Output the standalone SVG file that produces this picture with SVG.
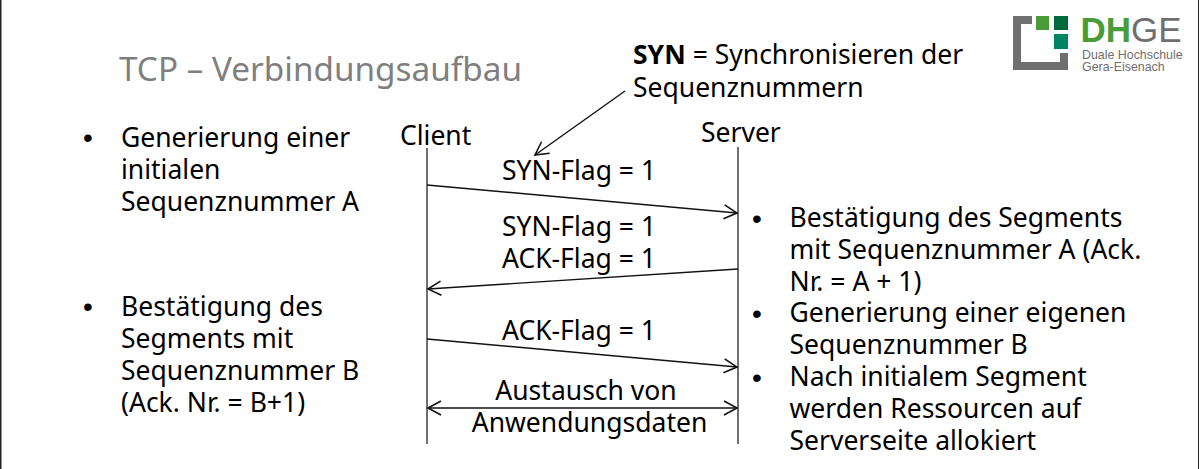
<svg xmlns="http://www.w3.org/2000/svg" width="1199" height="469" viewBox="0 0 1199 469">
<style>
text{font-family:"Noto Sans","Open Sans",sans-serif;fill:#000;font-size:26.5px}
.c{text-anchor:middle}
.t{fill:#7f7f7f;font-size:33.3px}
.b{font-family:"Liberation Sans",Arial,sans-serif;font-size:28px}
.l{stroke:#404040;stroke-width:1.5;fill:none}
.a{stroke:#111;stroke-width:1.4;fill:none}
.h{stroke:#111;stroke-width:1.6;fill:none}
.lg{font-family:"Liberation Sans",Arial,sans-serif;fill:#6f6f6f;font-size:12.4px}
</style>
<defs>
<marker id="e" markerUnits="userSpaceOnUse" markerWidth="18" markerHeight="18" refX="14" refY="8" orient="auto-start-reverse" viewBox="0 0 18 16"><path d="M1 1L14 8L1 15" class="h"/></marker>
</defs>
<rect width="1199" height="469" fill="#fff"/>
<rect x="0" y="0" width="1.5" height="469" fill="#222"/>
<rect x="1198" y="0" width="1" height="469" fill="#222"/>
<g id="title"><text class="t" x="119" y="81">TCP – Verbindungsaufbau</text></g>
<g id="logo">
<path d="M1032 20H1017V66H1064V53" fill="none" stroke="#6f6f6f" stroke-width="8"/>
<rect x="1036" y="16" width="13" height="14" fill="#4a9c38"/>
<rect x="1054" y="16" width="14" height="14" fill="#00693e"/>
<rect x="1054" y="34" width="14" height="15" fill="#008564"/>
<text x="1080.5" y="42" style="font-family:'Liberation Sans',Arial,sans-serif;font-size:35px;font-weight:700;fill:#4a9c38">DH<tspan style="font-weight:400;fill:#6f6f6f">GE</tspan></text>
<text class="lg" x="1082" y="58.5">Duale Hochschule</text>
<text class="lg" x="1082" y="71">Gera-Eisenach</text>
</g>
<g id="syn-note"><text x="633" y="64"><tspan font-weight="700">SYN</tspan> = Synchronisieren der<tspan x="633" y="97">Sequenznummern</tspan></text></g>
<g id="client"><text x="400" y="144.5">Client</text><path class="l" d="M427 148V444"/></g>
<g id="server"><text x="701" y="141.5">Server</text><path class="l" d="M738 147V444"/></g>
<g id="left-notes">
<text class="b" x="83" y="146.5">•</text><text x="121" y="146.7">Generierung einer<tspan x="121" y="178.7">initialen</tspan><tspan x="121" y="210.7">Sequenznummer A</tspan></text>
<text class="b" x="83" y="315.5">•</text><text x="121" y="315.7">Bestätigung des<tspan x="121" y="347.7">Segments mit</tspan><tspan x="121" y="379.7">Sequenznummer B</tspan><tspan x="121" y="411.7">(Ack. Nr. = B+1)</tspan></text>
</g>
<g id="right-notes">
<text class="b" x="752" y="227.5">•</text><text x="789.5" y="227.2">Bestätigung des Segments<tspan x="789.5" y="259.2">mit Sequenznummer A (Ack.</tspan><tspan x="789.5" y="291.2">Nr. = A + 1)</tspan></text>
<text class="b" x="752" y="322.5">•</text><text x="789.5" y="322.2">Generierung einer eigenen<tspan x="789.5" y="354.2">Sequenznummer B</tspan></text>
<text class="b" x="752" y="386.5">•</text><text x="789.5" y="386.2">Nach initialem Segment<tspan x="789.5" y="418.2">werden Ressourcen auf</tspan><tspan x="789.5" y="450.2">Serverseite allokiert</tspan></text>
</g>
<g id="flags">
<text x="502" y="180">SYN-Flag = 1</text><text x="502" y="236">SYN-Flag = 1<tspan x="502" y="268">ACK-Flag = 1</tspan></text><text x="502" y="340">ACK-Flag = 1</text>
<text class="c" x="586" y="400">Austausch von<tspan x="589.5" y="432">Anwendungsdaten</tspan></text>
</g>
<g id="connectors">
<path class="a" d="M625 91L535 155" marker-end="url(#e)"/>
<path class="a" d="M427 185L737 213" marker-end="url(#e)"/>
<path class="a" d="M738 269L428 289" marker-end="url(#e)"/>
<path class="a" d="M427 339L737 367" marker-end="url(#e)"/>
<path class="a" d="M428 408H737" marker-start="url(#e)" marker-end="url(#e)"/>
</g>
</svg>
